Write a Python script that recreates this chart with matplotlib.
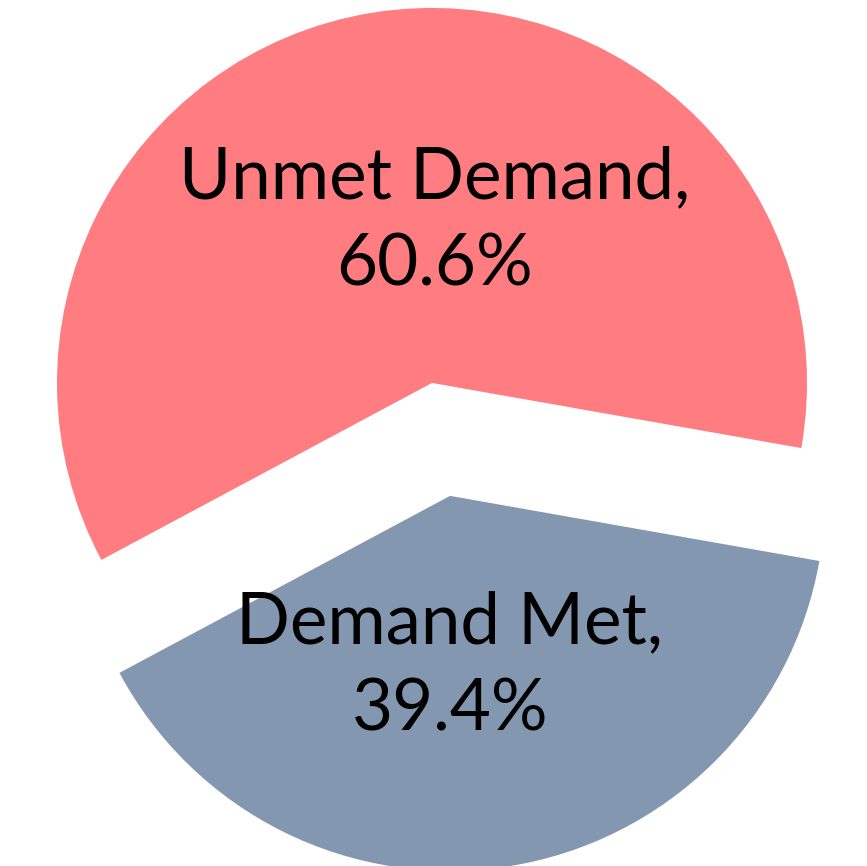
import matplotlib.pyplot as plt

# data
labels = ["Unmet Demand", "Demand Met"]
shares = [60.6, 39.4]
colors = ["#FF7C80", "#8497B0"]
explode = [0, 0.305]

fig = plt.figure(figsize=(8.67, 8.66), dpi=100)
ax = fig.add_axes([0, 0, 1, 1])

ax.pie(
    shares,
    colors=colors,
    explode=explode,
    startangle=-10,
    counterclock=True,
    radius=1.0,
    wedgeprops={"linewidth": 0},
)

# labels placed inside the slices
label_pos = [(0.008, 0.43), (0.048, -0.755)]
for name, val, (x, y) in zip(labels, shares, label_pos):
    ax.text(
        x, y,
        f"{name},\n{val:.1f}%",
        ha="center",
        va="center",
        fontsize=51,
        family="Lato",
        linespacing=1.42,
    )

ax.set_xlim(-1.152, 1.16)
ax.set_ylim(-1.288, 1.021)
ax.set_aspect("equal")
ax.axis("off")

plt.savefig("out.png", dpi=100)
plt.close()
